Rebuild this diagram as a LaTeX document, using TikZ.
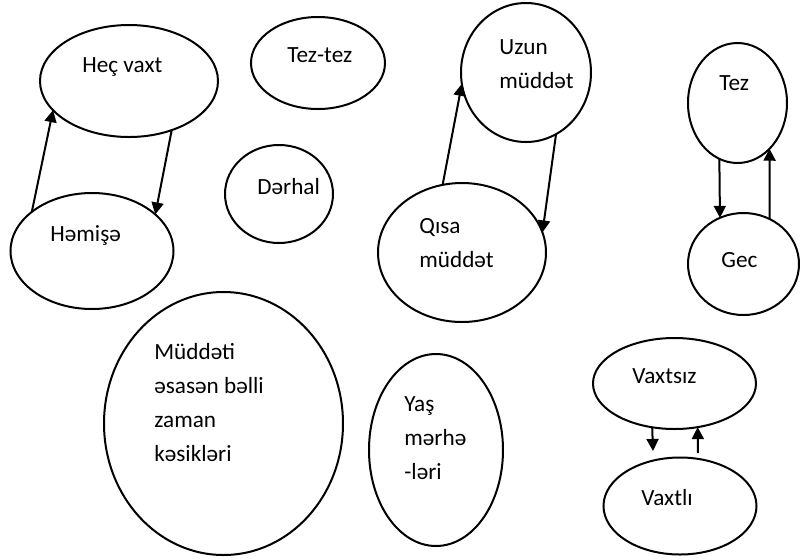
\documentclass[tikz,border=0pt]{standalone}
\usepackage{fontspec}
\setmainfont{Carlito}
\usetikzlibrary{shapes.geometric, arrows.meta}

\begin{document}
\begin{tikzpicture}[x=0.5pt, y=-0.5pt,
    bubble/.style={draw, ellipse, line width=1pt, inner sep=0pt, outer sep=0pt},
    word/.style={anchor=base west, inner sep=0pt, align=left,
      font=\fontsize{11.6}{17}\selectfont},
    link/.style={line width=1pt, -{Triangle[length=6pt, width=6pt]}}]
  \useasboundingbox (0, 0) rectangle (800, 559);

  \node[bubble, minimum width=89pt, minimum height=56pt] (hecvaxt) at (129, 81) {};
  \node[word] (hecvaxttxt) at (82, 72) {Heç vaxt};

  \node[bubble, minimum width=81.5pt, minimum height=58pt] (hemise) at (92, 251) {};
  \node[word] (hemisetxt) at (50, 241) {Həmişə};

  \node[bubble, minimum width=67pt, minimum height=46pt] (teztez) at (318, 63) {};
  \node[word] (tezteztxt) at (287, 62) {Tez-tez};

  \node[bubble, minimum width=54pt, minimum height=49pt] (derhal) at (279, 194) {};
  \node[word] (derhaltxt) at (257, 194) {Dərhal};

  % multi-line texts: base is the last line
  \node[bubble, minimum width=65pt, minimum height=69.5pt] (uzun) at (526, 72.5) {};
  \node[word] (uzuntxt) at (499, 88) {Uzun\\müddət};

  \node[bubble, minimum width=84pt, minimum height=69.5pt] (qisa) at (462, 252.5) {};
  \node[word] (qisatxt) at (419, 267) {Qısa\\müddət};

  \node[bubble, minimum width=49.5pt, minimum height=60pt] (tez) at (737.5, 103) {};
  \node[word] (teztxt) at (719, 90) {Tez};

  \node[bubble, minimum width=55.5pt, minimum height=51pt] (gec) at (743.5, 264) {};
  \node[word] (gectxt) at (721, 267) {Gec};

  \node[bubble, minimum width=81.5pt, minimum height=45.5pt] (vaxtsiz) at (674.5, 383.5) {};
  \node[word] (vaxtsiztxt) at (632, 383) {Vaxtsız};

  \node[bubble, minimum width=76.5pt, minimum height=48.5pt] (vaxtli) at (680, 506) {};
  \node[word] (vaxtlitxt) at (641, 505) {Vaxtlı};

  \node[bubble, minimum width=119.5pt, minimum height=131.5pt] (muddeti) at (223.5, 423.5) {};
  \node[word] (muddetitxt) at (154, 461) {Müddəti\\əsasən bəlli\\zaman\\kəsikləri};

  \node[bubble, minimum width=67pt, minimum height=96pt] (yas) at (436, 450) {};
  \node[word] (yastxt) at (404, 479) {Yaş\\mərhə\\-ləri};

  \coordinate (vaxtdown) at (653, 451);
  \coordinate (vaxtup) at (698, 453);

  \draw[link] (hemise.147.8) -- (hecvaxt.201);
  \draw[link] (hecvaxt.311) -- (hemise.30.3);

  \draw[link] (qisa.106) -- (uzun.190.6);
  \draw[link] (uzun.296.7) -- (qisa.14.8);

  \draw[link] (tez.252.7) -- (gec.117.5);
  \draw[link] (gec.60.1) -- (tez.305.7);

  \draw[link] (vaxtsiz.243.9) -- (vaxtdown);
  \draw[link] (vaxtup) -- (vaxtsiz.298.3);
\end{tikzpicture}
\end{document}
